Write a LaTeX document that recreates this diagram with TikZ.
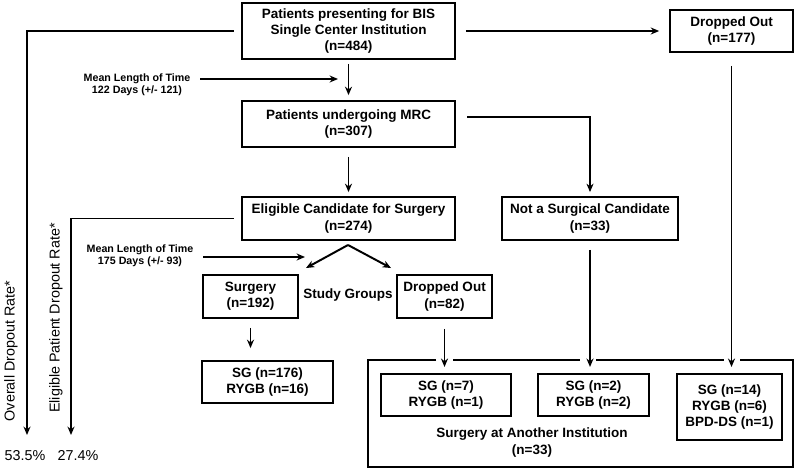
\documentclass[tikz,border=0pt]{standalone}
\usepackage{fontspec}
\setmainfont{Liberation Sans}
\usetikzlibrary{arrows.meta}
\begin{document}
\begin{tikzpicture}[x=0.025cm,y=-0.025cm,line width=1.4pt,line join=miter,>={Stealth[length=6pt,width=5pt]},
	box/.style={draw,align=center,inner sep=0pt,font=\fontsize{9.6}{11.4}\selectfont\bfseries},
	dims/.style 2 args={minimum width=#1*0.025cm,minimum height=#2*0.025cm},
	note/.style={align=center,font=\fontsize{7.6}{8.8}\selectfont\bfseries},
	rate/.style={font=\fontsize{10.2}{12}\selectfont}]
	\useasboundingbox (0,0) rectangle (800,473);
	\node[box,dims={213}{56}] (pres) at (348.5,31) {Patients presenting for BIS\\Single Center Institution\\(n=484)};
	\node[box,dims={123}{42}] (drop1) at (731.5,31) {Dropped Out\\(n=177)};
	\node[box,dims={213}{46}] (mrc) at (348.5,124) {Patients undergoing MRC\\(n=307)};
	\node[box,dims={213}{43}] (elig) at (348.5,218.5) {Eligible Candidate for Surgery\\(n=274)};
	\node[box,dims={176}{43}] (notsurg) at (590,218.5) {Not a Surgical Candidate\\(n=33)};
	\node[box,dims={95}{43}] (surg) at (250.5,296.5) {Surgery\\(n=192)};
	\node[box,dims={95}{43}] (drop2) at (444.5,296.5) {Dropped Out\\(n=82)};
	\node[box,draw=none] (grp) at (348,295) {Study Groups};
	\node[box,dims={131}{42}] (sg1) at (267.5,382) {SG (n=176)\\RYGB (n=16)};
	\node[box,dims={130}{42}] (oth1) at (446,395) {SG (n=7)\\RYGB (n=1)};
	\node[box,dims={111}{42}] (oth2) at (593.5,395) {SG (n=2)\\RYGB (n=2)};
	\node[box,dims={105}{66}] (oth3) at (729.5,407) {SG (n=14)\\RYGB (n=6)\\BPD-DS (n=1)};
	\node[box,draw=none] (other) at (532,442.5) {Surgery at Another Institution\\(n=33)};
	\node[note] (time1) at (137,84.5) {Mean Length of Time\\122 Days (+/- 121)};
	\node[note] (time2) at (140,255.5) {Mean Length of Time\\175 Days (+/- 93)};
	\node[rate,rotate=90] (lab1) at (11,351) {Overall Dropout Rate*};
	\node[rate,rotate=90] (lab2) at (56,318) {Eligible Patient Dropout Rate*};
	\node[rate] (pct1) at (25,456) {53.5\%};
	\node[rate] (pct2) at (78,456) {27.4\%};
	\path (338,79) coordinate (m1)
		(305,257) coordinate (m2)
		(348,245) coordinate (sp)
		(27,435) coordinate (e1)
		(71,435) coordinate (e2);
	% outer frame, open where the arrows enter
	\draw (436,360) -| (368,467) -| (793,360) -- (740,360);
	\draw (453,360) -- (580,360) (596,360) -- (724,360);
	% connectors
	\draw[->,shorten <=7pt,shorten >=7pt] (pres.east) -- (drop1.west);
	\draw[->,shorten <=2.8pt,shorten >=3.5pt] (pres) -- (mrc);
	\draw[->,shorten <=6.4pt,shorten >=2.8pt] (mrc) -- (elig);
	\draw[->,shorten <=8pt,shorten >=2.8pt] ([yshift=5pt]mrc.east) -| (notsurg);
	\draw[->,shorten <=3pt] (time1.east |- m1) -- (m1);
	\draw[->,shorten <=3pt] (time2.east |- m2) -- (m2);
	\draw[->] (sp) -- ([shift={(7,-6)}]surg.north east);
	\draw[->] (sp) -- ([shift={(-5,-6)}]drop2.north west);
	\draw[->,shorten <=6.4pt,shorten >=8.5pt] (surg) -- (surg |- sg1.north);
	\draw[->,shorten <=7pt,shorten >=4.3pt] (drop2) -- (drop2 |- oth1.north);
	\draw[->,shorten <=6.4pt,shorten >=4.3pt] (notsurg) -- (notsurg |- oth2.north);
	\draw[->,shorten <=9.2pt,shorten >=4.3pt] (drop1) -- (drop1 |- oth3.north);
	\draw[->,shorten <=5pt] (pres.west) -| (e1);
	\draw[->,shorten <=5pt] (elig.west) -| (e2);
\end{tikzpicture}
\end{document}
